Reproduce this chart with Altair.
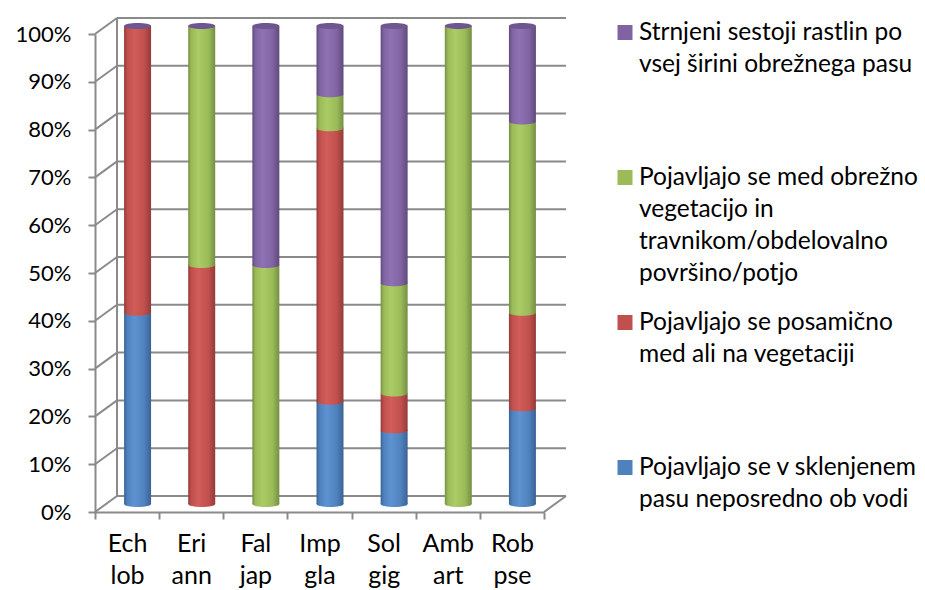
import altair as alt
import pandas as pd

# Species (two-word abbreviations) along the category axis
categories = ["Ech lob", "Eri ann", "Fal jap", "Imp gla", "Sol gig", "Amb art", "Rob pse"]

# Share of records per occurrence type, listed bottom to top of each stack
ob_vodi = [0.40, 0.00, 0.00, 0.214, 0.154, 0.00, 0.20]
posamicno = [0.60, 0.50, 0.00, 0.572, 0.077, 0.00, 0.20]
med_vegetacijo = [0.00, 0.50, 0.50, 0.071, 0.231, 1.00, 0.40]
strnjeni = [0.00, 0.00, 0.50, 0.143, 0.538, 0.00, 0.20]

series_keys = ["vodi", "posamicno", "med", "strnjeni"]
series_values = [ob_vodi, posamicno, med_vegetacijo, strnjeni]
series_labels = [
    "Pojavljajo se v sklenjenem\npasu neposredno ob vodi",
    "Pojavljajo se posamično\nmed ali na vegetaciji",
    "Pojavljajo se med obrežno\nvegetacijo in\ntravnikom/obdelovalno\npovršino/potjo",
    "Strnjeni sestoji rastlin po\nvsej širini obrežnega pasu",
]
# base, highlight, shadow
series_colors = [
    ("#4F81BD", "#5E92D2", "#3A6396"),
    ("#C0504D", "#D25D5A", "#943B39"),
    ("#9BBB59", "#ABCB66", "#758F42"),
    ("#8064A2", "#8F72B4", "#5F4A7C"),
]
cap_color = "#6E5790"

tick_values = [0.0, 0.1, 0.2, 0.3, 0.4, 0.5, 0.6, 0.7, 0.8, 0.9, 1.0]

FONT = "Lato"
GRID = "#8A8A8A"
DEPTH_X, DEPTH_Y = 22, -16     # back-wall offset of the 3D box
BAR_DX, BAR_DY = 10.5, -8      # cylinders stand mid-depth
BAR_W = 27
ELLIPSE = "M -1 0 A 1 0.22 0 1 0 1 0 A 1 0.22 0 1 0 -1 0 Z"

# long table with stacked start/end per segment
rows = []
for ci, cat in enumerate(categories):
    acc = 0.0
    for key, vals in zip(series_keys, series_values):
        v = vals[ci]
        rows.append({"cat": cat, "series": key, "start": acc, "end": acc + v, "value": v})
        acc += v
segments = pd.DataFrame(rows)
segments = segments[segments["value"] > 0]

ticks_df = pd.DataFrame({"t": tick_values})
caps_df = pd.DataFrame({"cat": categories, "top": [1.0] * len(categories)})

y_axis = alt.Axis(
    values=tick_values, format="%", labelFont=FONT, labelFontSize=22, labelColor="#000000",
    labelPadding=17, tickSize=7, tickColor=GRID, tickWidth=2,
    domainColor=GRID, domainWidth=2, grid=False, title=None,
)
x_axis = alt.Axis(
    labelFont=FONT, labelFontSize=25, labelColor="#000000", labelAngle=0,
    labelExpr="split(datum.label, ' ')", labelLineHeight=32, labelPadding=12,
    tickBand="extent", tickSize=7, tickColor=GRID, tickWidth=2,
    domainColor=GRID, domainWidth=2, title=None,
)
x_scale = alt.Scale(domain=categories, paddingInner=0, paddingOuter=0)
y_scale = alt.Scale(domain=[0, 1], nice=False)


def y_of(field):
    return alt.Y(field, type="quantitative", scale=y_scale, axis=y_axis)


def x_cat():
    return alt.X("cat:N", scale=x_scale, axis=x_axis, sort=categories)


base_ticks = alt.Chart(ticks_df)

# horizontal gridlines on the back wall
back_grid = base_ticks.mark_rule(color=GRID, strokeWidth=2, yOffset=DEPTH_Y).encode(
    x=alt.value(DEPTH_X), x2=alt.value(449 + DEPTH_X), y=y_of("t")
)
# diagonal gridlines on the left side wall
side_grid = base_ticks.mark_rule(color=GRID, strokeWidth=2, y2Offset=DEPTH_Y).encode(
    x=alt.value(0), x2=alt.value(DEPTH_X), y=y_of("t"), y2="t:Q"
)
# vertical back edge of the side wall
wall_edge = alt.Chart(pd.DataFrame({"a": [0.0], "b": [1.0]})).mark_rule(
    color=GRID, strokeWidth=2, yOffset=DEPTH_Y, y2Offset=DEPTH_Y
).encode(x=alt.value(DEPTH_X), y=y_of("a"), y2="b:Q")
# right edge of the floor
floor_edge = alt.Chart(pd.DataFrame({"a": [0.0]})).mark_rule(
    color=GRID, strokeWidth=2, y2Offset=DEPTH_Y
).encode(x=alt.value(449), x2=alt.value(449 + DEPTH_X), y=y_of("a"), y2="a:Q")

layers = [back_grid, side_grid, wall_edge, floor_edge]

for key, (base, light, dark) in zip(series_keys, series_colors):
    grad = alt.LinearGradient(
        gradient="linear", x1=0, x2=1, y1=0, y2=0,
        stops=[
            alt.GradientStop(offset=0, color=dark),
            alt.GradientStop(offset=0.12, color=base),
            alt.GradientStop(offset=0.38, color=light),
            alt.GradientStop(offset=0.75, color=base),
            alt.GradientStop(offset=1, color=dark),
        ],
    )
    seg = alt.Chart(segments).transform_filter(alt.datum.series == key)
    body = seg.mark_bar(
        fill=grad, size=BAR_W, xOffset=BAR_DX, x2Offset=BAR_DX, yOffset=BAR_DY, y2Offset=BAR_DY
    ).encode(x=x_cat(), y=y_of("start"), y2="end:Q")
    rim = seg.mark_point(
        shape=ELLIPSE, size=BAR_W * BAR_W, filled=True, fill=grad, strokeWidth=0,
        opacity=1, xOffset=BAR_DX, yOffset=BAR_DY,
    ).encode(x=x_cat(), y=y_of("start"))
    layers += [body, rim]

caps = alt.Chart(caps_df).mark_point(
    shape=ELLIPSE, size=BAR_W * BAR_W, filled=True, fill=cap_color, strokeWidth=0,
    opacity=1, xOffset=BAR_DX, yOffset=BAR_DY,
).encode(x=x_cat(), y=y_of("top"))
layers.append(caps)

plot = alt.layer(*layers)

# legend on the right, top entry first
legend_df = pd.DataFrame({
    "series": series_keys[::-1],
    "label": series_labels[::-1],
    "slot": [0, 1, 2, 3],
})
slot_y = alt.Y("slot:Q", scale=alt.Scale(domain=[0, 3], range=[-1.5, 433.5]), axis=None)
legend_sq = alt.Chart(legend_df).mark_square(size=225, opacity=1).encode(
    x=alt.value(530),
    y=slot_y,
    fill=alt.Fill("series:N", scale=alt.Scale(domain=series_keys, range=[c[0] for c in series_colors]), legend=None),
)
legend_txt = alt.Chart(legend_df).mark_text(
    align="left", baseline="alphabetic", font=FONT, fontSize=24.5, color="#000000",
    lineBreak="\n", lineHeight=32, dy=7.5,
).encode(x=alt.value(544), y=slot_y, text="label:N")
legend = alt.layer(legend_sq, legend_txt)

chart = alt.layer(plot, legend).resolve_scale(y="independent").properties(
    width=449, height=478,
    autosize=alt.AutoSizeParams(type="none"),
    padding={"left": 95, "top": 34, "right": 381, "bottom": 78},
    background="white",
).configure_view(stroke=None)

chart.save("out.html", embed_options={"renderer": "svg", "actions": False})
